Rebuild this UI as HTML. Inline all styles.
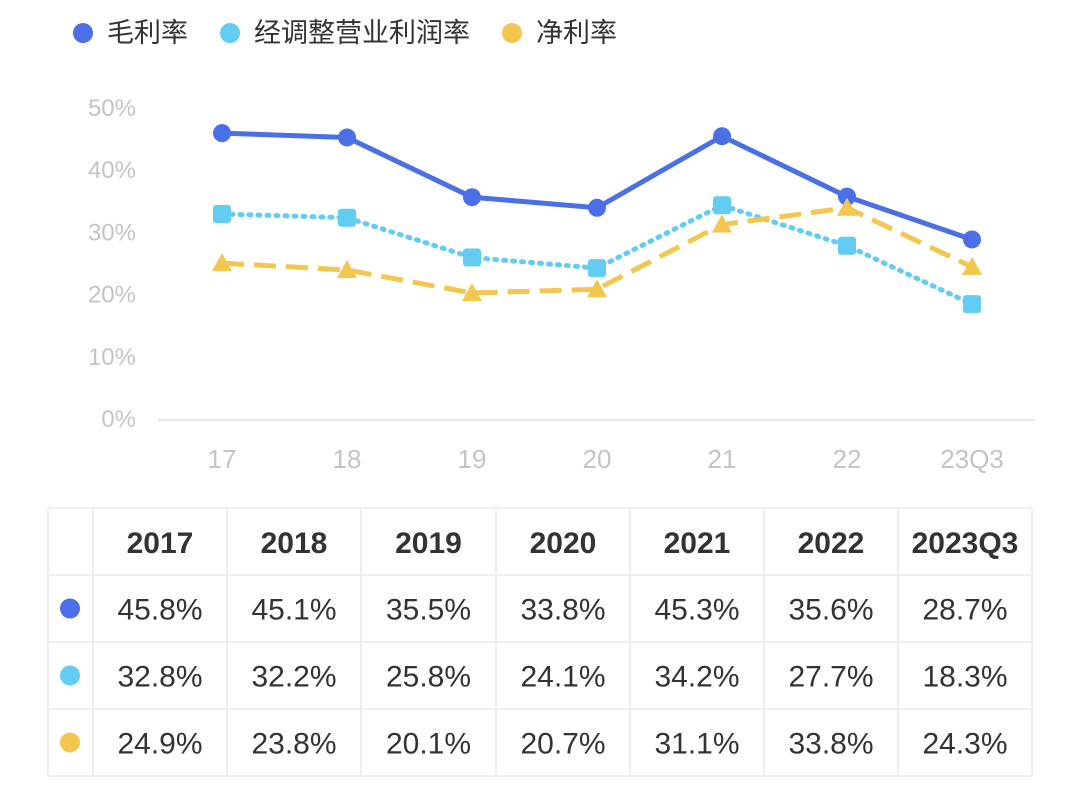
<!DOCTYPE html>
<html><head><meta charset="utf-8">
<style>
html,body{margin:0;padding:0;background:#fff;}
body{width:1080px;height:786px;overflow:hidden;font-family:"Liberation Sans","Noto Sans CJK SC",sans-serif;}
svg{display:block}
</style></head>
<body>
<svg id="chart" width="1080" height="786" xmlns="http://www.w3.org/2000/svg"></svg>
<script>
const categories = ["17","18","19","20","21","22","23Q3"];
const tableYears = ["2017","2018","2019","2020","2021","2022","2023Q3"];
const grossMargin = [45.8,45.1,35.5,33.8,45.3,35.6,28.7];
const adjOpMargin = [32.8,32.2,25.8,24.1,34.2,27.7,18.3];
const netMargin = [24.9,23.8,20.1,20.7,31.1,33.8,24.3];
const yTicks = [0,10,20,30,40,50];
const seriesNames = ["毛利率","经调整营业利润率","净利率"];

const NS="http://www.w3.org/2000/svg";
const svg=document.getElementById('chart');
function el(tag,attrs,parent){const e=document.createElementNS(NS,tag);for(const k in attrs)e.setAttribute(k,attrs[k]);(parent||svg).appendChild(e);return e;}
const x=i=>222+i*125;
const y=v=>418-v*6.22;
const colors=["#4a6fe6","#62ccf2","#f3c650"];

// legend
const legX=[83,230,512];
seriesNames.forEach((n,i)=>{
  const g=el('g',{});
  
  
  el('circle',{cx:legX[i],cy:33,r:10,fill:colors[i]},g);
  const t=el('text',{x:legX[i]+24,y:42,'font-size':27,fill:'#333'},g);t.textContent=n;
});

// y ticks
yTicks.forEach(v=>{
  const t=el('text',{x:136,y:y(v)+9,'font-size':24,fill:'#c4c4c4','text-anchor':'end'});
  
  
  t.textContent=v+'%';
});
const base=el('line',{x1:158,x2:1035,y1:420,y2:420,stroke:'#e6e6e6','stroke-width':2});


categories.forEach((c,i)=>{
  const t=el('text',{x:x(i),y:468,'font-size':26,fill:'#c4c4c4','text-anchor':'middle'});
  
  
  t.textContent=c;
});

// series
const data=[grossMargin,adjOpMargin,netMargin];
const dash=["","2 7","22 10"];
data.forEach((arr,s)=>{
  const pts=arr.map((v,i)=>x(i)+','+y(v)).join(' ');
  const a={points:pts,fill:'none',stroke:colors[s],'stroke-width':s==1?5:5,'stroke-linecap':s==1?'round':'butt','stroke-linejoin':'round'};
  if(dash[s])a['stroke-dasharray']=dash[s];
  const pl=el('polyline',a);
  
  
  arr.forEach((v,i)=>{
    let m;
    if(s==0)m=el('circle',{cx:x(i),cy:y(v),r:9,fill:colors[s]});
    else if(s==1)m=el('rect',{x:x(i)-9,y:y(v)-9,width:18,height:18,rx:3,fill:colors[s]});
    else m=el('polygon',{points:`${x(i)},${y(v)-10} ${x(i)+10},${y(v)+8} ${x(i)-10},${y(v)+8}`,fill:colors[s]});
    
    
  });
});

// table
const colX=[48,93,227,361,496,630,764,898,1032];
const rowY=[508,575,642,709,776];
const tbl=el('g',{});


colX.forEach(cx=>el('line',{x1:cx,x2:cx,y1:508,y2:776,stroke:'#eeeeee','stroke-width':2},tbl));
rowY.forEach(ry=>el('line',{x1:48,x2:1032,y1:ry,y2:ry,stroke:'#eeeeee','stroke-width':2},tbl));
tableYears.forEach((yr,i)=>{
  const t=el('text',{x:(colX[i+1]+colX[i+2])/2,y:553,'font-size':30,'font-weight':'bold',fill:'#333','text-anchor':'middle'},tbl);
  
  
  t.textContent=yr;
});
data.forEach((arr,s)=>{
  const cy=(rowY[s+1]+rowY[s+2])/2;
  el('circle',{cx:70,cy:cy,r:10,fill:colors[s]},tbl);
  arr.forEach((v,i)=>{
    const t=el('text',{x:(colX[i+1]+colX[i+2])/2,y:cy+11,'font-size':30,fill:'#333','text-anchor':'middle'},tbl);
    
    
    t.textContent=v.toFixed(1)+'%';
  });
});
</script>
</body></html>
